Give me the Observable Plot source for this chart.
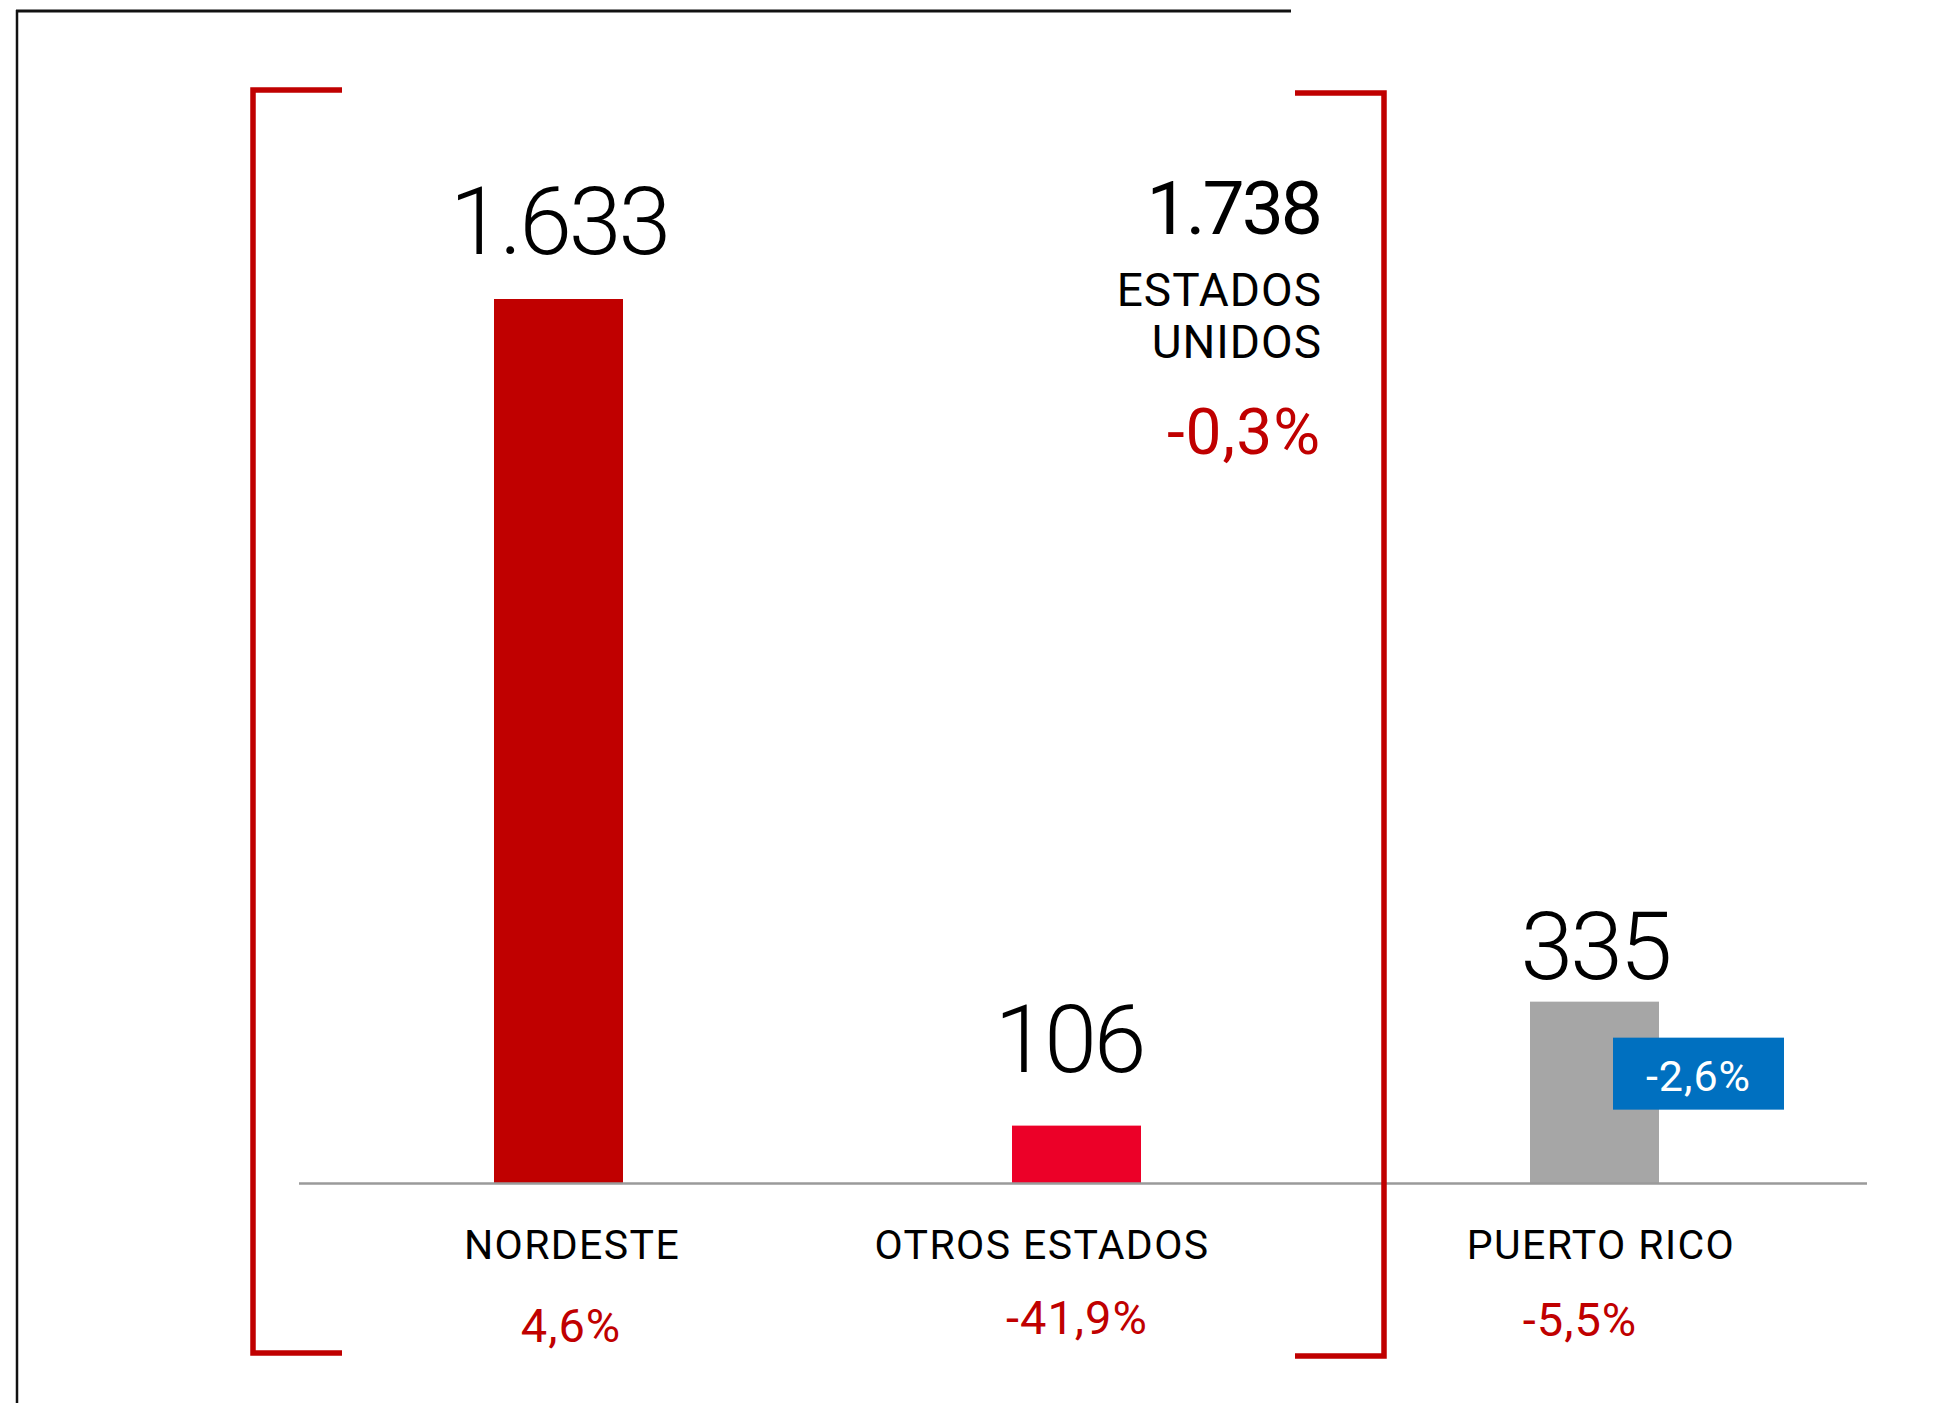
<!DOCTYPE html>
<html>
<head>
<meta charset="utf-8">
<script src="https://cdn.jsdelivr.net/npm/d3@7"></script>
<script src="https://cdn.jsdelivr.net/npm/@observablehq/plot@0.6"></script>
<style>
  html, body { margin: 0; padding: 0; background: #fff; }
  #chart { position: relative; width: 1936px; height: 1403px; }
  #chart svg { display: block; }
</style>
</head>
<body>
<div id="chart"></div>
<script>
// ---- data ----
const categories = ["NORDESTE", "OTROS ESTADOS", "PUERTO RICO"];
const values = [1633, 106, 335];
const changes = ["4,6%", "-41,9%", "-5,5%"];
const groupName = "ESTADOS\nUNIDOS";
const groupTotal = 1738;
const groupChange = "-0,3%";
const boxCategory = "PUERTO RICO";
const boxChange = "-2,6%";

// ---- styling / layout ----
const barColors = ["#c00000", "#ec0028", "#a6a6a6"];
const RED = "#c00000";
const BLUE = "#0070c0";
const FONT = "Roboto, 'Noto Sans', sans-serif";
const valueDy = [-46, -54, -23];
const valueDx = [0, -8, 0];
const nameDx = [13, -35, 6];
const changeDx = [12, 0, -15];
const changeDy = [158, 150, 152];
const spacing = {
  "values": "-3px", "group-total": "-3px", "names": "1.4px",
  "changes": "1px", "group-name": "1px", "group-change": "1px"
};

const data = categories.map((c, i) => ({category: c, value: values[i], change: changes[i]}));
const locale = d3.formatLocale({decimal: ",", thousands: ".", grouping: [3], currency: ["", ""]});
const fmt = locale.format(",d");

const marks = [
  Plot.barY(data, {x: "category", y: "value", fill: "category"}),
  Plot.ruleY([0], {stroke: "#9a9a9a", strokeWidth: 2.6})
];

categories.forEach((c, i) => {
  const one = data.filter(d => d.category === c);
  marks.push(Plot.text(one, {
    x: "category", y: "value", text: d => fmt(d.value),
    dx: valueDx[i], dy: valueDy[i], lineAnchor: "bottom", fontSize: 95, fontWeight: 300,
    fill: "#000", ariaDescription: "values"
  }));
  marks.push(Plot.text(one, {
    x: "category", text: "category", frameAnchor: "bottom",
    dx: nameDx[i], dy: 75, lineAnchor: "bottom", fontSize: 41,
    fill: "#000", ariaDescription: "names"
  }));
  marks.push(Plot.text(one, {
    x: "category", text: "change", frameAnchor: "bottom",
    dx: changeDx[i], dy: changeDy[i], lineAnchor: "bottom", fontSize: 47,
    fill: RED, ariaDescription: "changes"
  }));
});

// US group annotation (right aligned, top of the frame)
marks.push(Plot.text([groupTotal], {
  x: () => "OTROS ESTADOS", text: d => fmt(d), frameAnchor: "top",
  dx: 243, dy: -66, textAnchor: "end", lineAnchor: "bottom",
  fontSize: 75, fill: "#000", ariaDescription: "group-total"
}));
marks.push(Plot.text([groupName], {
  x: () => "OTROS ESTADOS", text: d => d, frameAnchor: "top",
  dx: 245, dy: 58, textAnchor: "end", lineAnchor: "bottom", lineHeight: 1.13,
  fontSize: 46, fill: "#000", ariaDescription: "group-name"
}));
marks.push(Plot.text([groupChange], {
  x: () => "OTROS ESTADOS", text: d => d, frameAnchor: "top",
  dx: 244, dy: 154, textAnchor: "end", lineAnchor: "bottom",
  fontSize: 64, fill: RED, ariaDescription: "group-change"
}));

const plot = Plot.plot({
  width: 1936,
  height: 1403,
  marginTop: 299,
  marginBottom: 220,
  marginLeft: 299,
  marginRight: 69,
  x: {type: "band", domain: categories, range: [493, 1659], paddingInner: 0.7512, paddingOuter: 0, axis: null},
  y: {domain: [0, d3.max(values)], axis: null},
  color: {domain: categories, range: barColors},
  style: {fontFamily: FONT, background: "#fff", overflow: "visible"},
  marks
});

document.getElementById("chart").appendChild(plot);

const svg = d3.select(plot);
// letter spacing per text group (CSS style, not data)
for (const [k, v] of Object.entries(spacing)) {
  svg.selectAll(`g[aria-description="${k}"] text`).style("letter-spacing", v);
}

// ---- decorations drawn with the plot's own scales ----
const xs = plot.scale("x");
const ys = plot.scale("y");
const bw = xs.bandwidth;

// outer black frame lines (top and left)
svg.append("line").attr("x1", 16).attr("x2", 1291).attr("y1", 11).attr("y2", 11)
  .attr("stroke", "#111").attr("stroke-width", 3);
svg.append("line").attr("x1", 17).attr("x2", 17).attr("y1", 10).attr("y2", 1403)
  .attr("stroke", "#111").attr("stroke-width", 2.5);

// red bracket around the US states
const leftX = xs.apply("NORDESTE") - 241;
const rightX = xs.apply("OTROS ESTADOS") + bw + 243;
const arm = 89;
svg.append("path")
  .attr("d", `M${leftX + arm},90 H${leftX} V1353 H${leftX + arm}`)
  .attr("fill", "none").attr("stroke", RED).attr("stroke-width", 5.5);
svg.append("path")
  .attr("d", `M${rightX - arm},93 H${rightX} V1356 H${rightX - arm}`)
  .attr("fill", "none").attr("stroke", RED).attr("stroke-width", 5.5);

// blue change box on Puerto Rico bar
const bx = xs.apply(boxCategory) + 83;
const by = ys.apply(values[categories.indexOf(boxCategory)]) + 36;
const g = svg.append("g");
g.append("rect").attr("x", bx).attr("y", by).attr("width", 171).attr("height", 72).attr("fill", BLUE);
g.append("text").attr("x", bx + 85.5).attr("y", by + 53)
  .attr("text-anchor", "middle").attr("fill", "#fff")
  .attr("font-family", FONT).attr("font-size", 43).attr("letter-spacing", "1px")
  .text(boxChange);
</script>
</body>
</html>
